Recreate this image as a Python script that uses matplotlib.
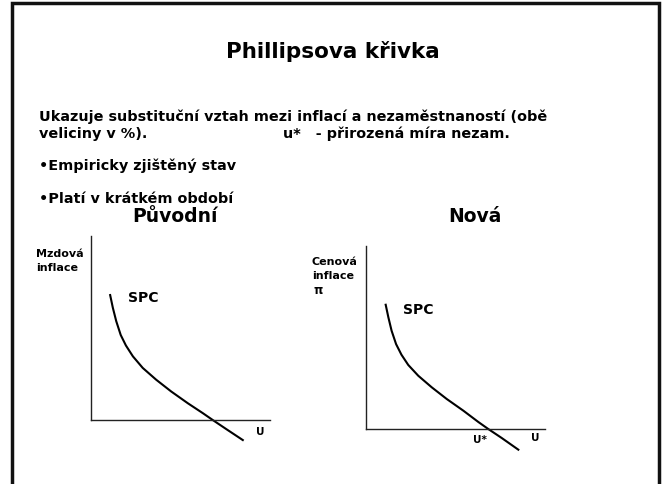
import numpy as np
import matplotlib.pyplot as plt

# curve points (U, inflation), axis units 0..10
u_old = [1.07, 1.22, 1.41, 1.66, 1.95, 2.34, 2.89, 3.64, 4.48, 5.41, 6.25, 6.80, 7.55, 8.48]
pi_old = [6.79, 6.10, 5.37, 4.62, 4.05, 3.46, 2.83, 2.19, 1.55, 0.91, 0.37, 0.0, -0.49, -1.09]
u_new = [1.10, 1.25, 1.43, 1.68, 1.98, 2.36, 2.92, 3.67, 4.51, 5.44, 6.28, 6.83, 7.58, 8.51]
pi_new = [6.79, 6.10, 5.37, 4.64, 4.06, 3.50, 2.91, 2.28, 1.64, 1.00, 0.38, 0.0, -0.49, -1.13]

title = 'Phillipsova křivka'
line1 = 'Ukazuje substituční vztah mezi inflací a nezaměstnaností (obě'
line2 = 'veliciny v %).'
line2b = 'u*   - přirozená míra nezam.'
bullets = ['•Empiricky zjištěný stav', '•Platí v krátkém období']
headings = ['Původní', 'Nová']

W, H = 666, 485
fig = plt.figure(figsize=(W / 100, H / 100), dpi=100)
plt.rcParams['font.family'] = 'DejaVu Sans'

# page axes in pixel units
bg = fig.add_axes([0, 0, 1, 1])
bg.set_xlim(0, W)
bg.set_ylim(H, 0)
bg.axis('off')
bg.plot([12, 12, 659, 659], [H, 4, 4, H], color='#111111', lw=2.5, solid_joinstyle='miter')

body = 10.4
bg.text(333, 51, title, ha='center', va='center', fontsize=15.5, fontweight='bold')
bg.text(39, 117, line1, ha='left', va='center', fontsize=body, fontweight='bold')
bg.text(39, 134, line2, ha='left', va='center', fontsize=body, fontweight='bold')
bg.text(283, 134, line2b, ha='left', va='center', fontsize=body, fontweight='bold')
bg.text(39, 166, bullets[0], ha='left', va='center', fontsize=body, fontweight='bold')
bg.text(39, 199, bullets[1], ha='left', va='center', fontsize=body, fontweight='bold')
bg.text(175, 217, headings[0], ha='center', va='center', fontsize=13.5, fontweight='bold')
bg.text(475, 217, headings[1], ha='center', va='center', fontsize=13.5, fontweight='bold')


def diagram(rect, u, pi):
    ax = fig.add_axes(rect)
    ax.set_xlim(0, 10)
    ax.set_ylim(0, 10)
    for s in ['top', 'right']:
        ax.spines[s].set_visible(False)
    for s in ['left', 'bottom']:
        ax.spines[s].set_linewidth(1.0)
        ax.spines[s].set_color('#222222')
    ax.set_xticks([])
    ax.set_yticks([])
    ax.patch.set_alpha(0)
    ax.plot(u, pi, color='black', lw=1.5, clip_on=False, solid_joinstyle='round')
    return ax


ax1 = diagram([91 / W, (H - 421) / H, 179 / W, 184 / H], u_old, pi_old)
ax2 = diagram([366 / W, (H - 430) / H, 179 / W, 183 / H], u_new, pi_new)

# labels, pixel positions on the page
bg.text(36, 254, 'Mzdová', ha='left', va='center', fontsize=8, fontweight='bold')
bg.text(36, 268, 'inflace', ha='left', va='center', fontsize=8, fontweight='bold')
bg.text(128, 298, 'SPC', ha='left', va='center', fontsize=10, fontweight='bold')
bg.text(260, 432, 'U', ha='center', va='center', fontsize=7.5, fontweight='bold')

bg.text(312, 262, 'Cenová', ha='left', va='center', fontsize=8, fontweight='bold')
bg.text(312, 276, 'inflace', ha='left', va='center', fontsize=8, fontweight='bold')
bg.text(314, 291, 'π', ha='left', va='center', fontsize=8.5, fontweight='bold')
bg.text(403, 310, 'SPC', ha='left', va='center', fontsize=10, fontweight='bold')
bg.text(480, 440, 'U*', ha='center', va='center', fontsize=7.5, fontweight='bold')
bg.text(535, 438, 'U', ha='center', va='center', fontsize=7.5, fontweight='bold')

fig.savefig('out.png', dpi=100)
